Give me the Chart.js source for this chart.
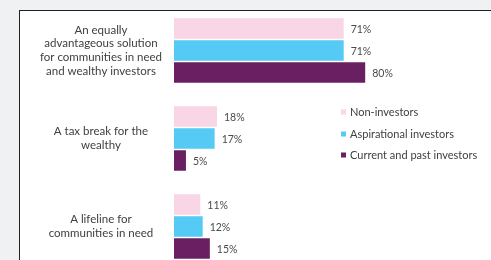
<!DOCTYPE html>
<html>
<head>
<meta charset="utf-8">
<script src="https://cdn.jsdelivr.net/npm/chart.js@4"></script>
<style>
  html, body { margin: 0; padding: 0; width: 491px; height: 260px; overflow: hidden; background: #f0f1f3; }
  #panel { position: absolute; left: 19px; top: 10px; right: 0; bottom: 0; background: #fff; border-left: 1px solid #222; border-top: 1px solid #222; }
  #wrap { position: absolute; left: 0; top: 0; width: 491px; height: 280px; }
</style>
</head>
<body>
<div id="panel"></div>
<div id="wrap"><canvas id="chart"></canvas></div>
<script>
const categories = [
  ['An equally', 'advantageous solution', 'for communities in need', 'and wealthy investors'],
  ['A tax break for the', 'wealthy'],
  ['A lifeline for', 'communities in need'],
];
const seriesNames = ['Non-investors', 'Aspirational investors', 'Current and past investors'];
const nonInvestors = [71, 18, 11];
const aspirational = [71, 17, 12];
const currentPast = [80, 5, 15];
const colors = ['#f8d6e6', '#55caf4', '#6b1f63'];

const FONT = 'Lato, "Open Sans", sans-serif';

// etiquetas de valor al final de cada barra
const valueLabels = {
  id: 'valueLabels',
  afterDatasetsDraw(chart) {
    const ctx = chart.ctx;
    ctx.save();
    ctx.font = '10.5px ' + FONT;
    ctx.fillStyle = '#4a4a4a';
    ctx.textAlign = 'left';
    ctx.textBaseline = 'middle';
    chart.data.datasets.forEach((ds, i) => {
      chart.getDatasetMeta(i).data.forEach((bar, j) => {
        ctx.fillText(ds.data[j] + '%', bar.x + 7, bar.y + 1);
      });
    });
    ctx.restore();
  },
};

// leyenda vertical a la derecha
const sideLegend = {
  id: 'sideLegend',
  afterDraw(chart) {
    const ctx = chart.ctx;
    const ys = [112, 134, 155];
    ctx.save();
    ctx.font = '11px ' + FONT;
    ctx.textBaseline = 'middle';
    chart.data.datasets.forEach((ds, i) => {
      ctx.fillStyle = ds.backgroundColor;
      ctx.fillRect(341, ys[i] - 2.5, 5, 5);
      ctx.fillStyle = '#404040';
      ctx.fillText(ds.label, 350, ys[i]);
    });
    ctx.restore();
  },
};

new Chart(document.getElementById('chart'), {
  type: 'bar',
  data: {
    labels: categories,
    datasets: [
      { label: seriesNames[0], data: nonInvestors, backgroundColor: colors[0] },
      { label: seriesNames[1], data: aspirational, backgroundColor: colors[1] },
      { label: seriesNames[2], data: currentPast, backgroundColor: colors[2] },
    ],
  },
  options: {
    indexAxis: 'y',
    responsive: true,
    maintainAspectRatio: false,
    animation: false,
    layout: { padding: { top: 6.5, bottom: 9.5, left: 0, right: 78 } },
    datasets: { bar: { categoryPercentage: 0.75, barPercentage: 0.93 } },
    plugins: { legend: { display: false }, tooltip: { enabled: false } },
    scales: {
      x: { min: 0, max: 100, display: false, grid: { display: false } },
      y: {
        grid: { display: false, drawTicks: false },
        border: { display: false },
        afterFit: (axis) => {
          axis.width = 174;
          axis.paddingTop = 0;
          axis.paddingBottom = 0;
        },
        ticks: {
          crossAlign: 'center',
          padding: 12,
          color: '#404040',
          font: { family: FONT, size: 11.5 },
        },
      },
    },
  },
  plugins: [valueLabels, sideLegend],
});
</script>
</body>
</html>
